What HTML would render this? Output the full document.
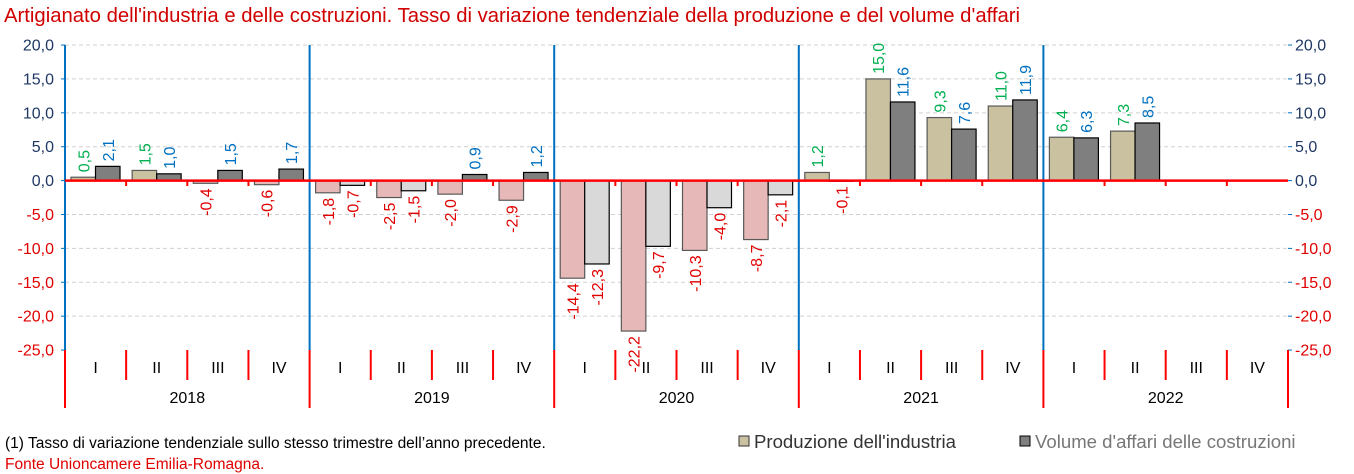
<!DOCTYPE html>
<html><head><meta charset="utf-8">
<style>
html,body{margin:0;padding:0;background:#fff;width:1354px;height:474px;overflow:hidden}
svg{display:block;font-family:"Liberation Sans",Arial,sans-serif}
</style></head>
<body>
<svg id="c" width="1354" height="474" xmlns="http://www.w3.org/2000/svg">
<text x="4" y="22" font-size="20.3" fill="#d00000">Artigianato dell'industria e delle costruzioni. Tasso di variazione tendenziale della produzione e del volume d'affari</text>
<text x="5" y="448" font-size="15.5" fill="#000">(1) Tasso di variazione tendenziale sullo stesso trimestre dell’anno precedente.</text>
<text x="5" y="469" font-size="15.5" fill="#e00000">Fonte Unioncamere Emilia-Romagna.</text>
<rect x="739" y="436" width="10" height="10" fill="#c9c1a0" stroke="#333" stroke-width="1"/>
<text x="754" y="448" font-size="18.6" fill="#333">Produzione dell'industria</text>
<rect x="1020" y="436" width="10" height="10" fill="#7f7f7f" stroke="#000" stroke-width="1"/>
<text x="1035" y="448" font-size="18.6" fill="#777">Volume d'affari delle costruzioni</text>
<g id="g"></g>
</svg>
<script>
var g=document.getElementById('g'),h='';
var L=65,R=1288,y0=180.6,s=6.778,q=(R-L)/20;
function Y(v){return y0-v*s}
for(var v=20;v>=-25;v-=5){var y=Y(v),lab=v.toFixed(1).replace('.',',');
 if(v!=0&&v!=-25)h+='<line x1="'+L+'" x2="'+R+'" y1="'+y+'" y2="'+y+'" stroke="#d0d0d0" stroke-dasharray="4,3"/>';
 var col=v<0?'#e00000':'#1f3864';
 h+='<text x="54" y="'+(y+5.5)+'" font-size="16" text-anchor="end" fill="'+col+'">'+lab+'</text>';
 h+='<text x="1295" y="'+(y+5.5)+'" font-size="16" fill="'+col+'">'+lab+'</text>';
 h+='<line x1="'+(L-4)+'" x2="'+L+'" y1="'+y+'" y2="'+y+'" stroke="#0070c0"/><line x1="'+R+'" x2="'+(R+4)+'" y1="'+y+'" y2="'+y+'" stroke="#0070c0"/>';}
var P=[0.5,1.5,-0.4,-0.6,-1.8,-2.5,-2.0,-2.9,-14.4,-22.2,-10.3,-8.7,1.2,15.0,9.3,11.0,6.4,7.3,null,null];
var V=[2.1,1.0,1.5,1.7,-0.7,-1.5,0.9,1.2,-12.3,-9.7,-4.0,-2.1,-0.1,11.6,7.6,11.9,6.3,8.5,null,null];
var lb='';
for(var i=0;i<20;i++){var st=L+i*q;
 [[P[i],st+6,true],[V[i],st+30.5,false]].forEach(function(b){var v=b[0];if(v===null)return;
  var x=b[1],w=24.5,y=Y(v),top=Math.min(y,y0),ht=Math.abs(y-y0);
  var fill,str;
  if(b[2]){fill=v<0?'#e6b8b7':'#c9c1a0';str='#595959';}else{fill=v<0?'#d9d9d9':'#7f7f7f';str='#000';}
  h+='<rect x="'+x+'" y="'+top+'" width="'+w+'" height="'+ht+'" fill="'+fill+'" stroke="'+str+'" stroke-width="1.2"/>';
  var cx=x+w/2+6,t=v.toFixed(1).replace('.',','),col=v<0?'#e00000':(b[2]?'#00b050':'#0070c0');
  if(v>=0)lb+='<text transform="translate('+cx+','+(y-5)+') rotate(-90)" font-size="16" fill="'+col+'">'+t+'</text>';
  else lb+='<text transform="translate('+cx+','+(y+5)+') rotate(-90)" font-size="16" text-anchor="end" fill="'+col+'">'+t+'</text>';
 });
 var qn=['I','II','III','IV'][i%4];
 h+='<text x="'+(st+q/2)+'" y="373" font-size="16" text-anchor="middle" fill="#000">'+qn+'</text>';
 if(i%4!=0)h+='<line x1="'+st+'" x2="'+st+'" y1="350" y2="380" stroke="#ff0000" stroke-width="2"/><line x1="'+st+'" x2="'+st+'" y1="180" y2="186" stroke="#ff0000" stroke-width="2"/>';
}
for(var k=0;k<=5;k++){var x=L+k*4*q;
 if(k<5)h+='<line x1="'+x+'" x2="'+x+'" y1="45" y2="350" stroke="#0070c0" stroke-width="2"/>';
 h+='<line x1="'+x+'" x2="'+x+'" y1="350" y2="408" stroke="#ff0000" stroke-width="2"/>';
 if(k<5)h+='<text x="'+(x+2*q)+'" y="403" font-size="16" text-anchor="middle" fill="#000">'+(2018+k)+'</text>';}
h+='<line x1="'+L+'" x2="'+R+'" y1="'+y0+'" y2="'+y0+'" stroke="#ff0000" stroke-width="2.5"/>';
g.innerHTML=h+lb;
</script>
</body></html>
